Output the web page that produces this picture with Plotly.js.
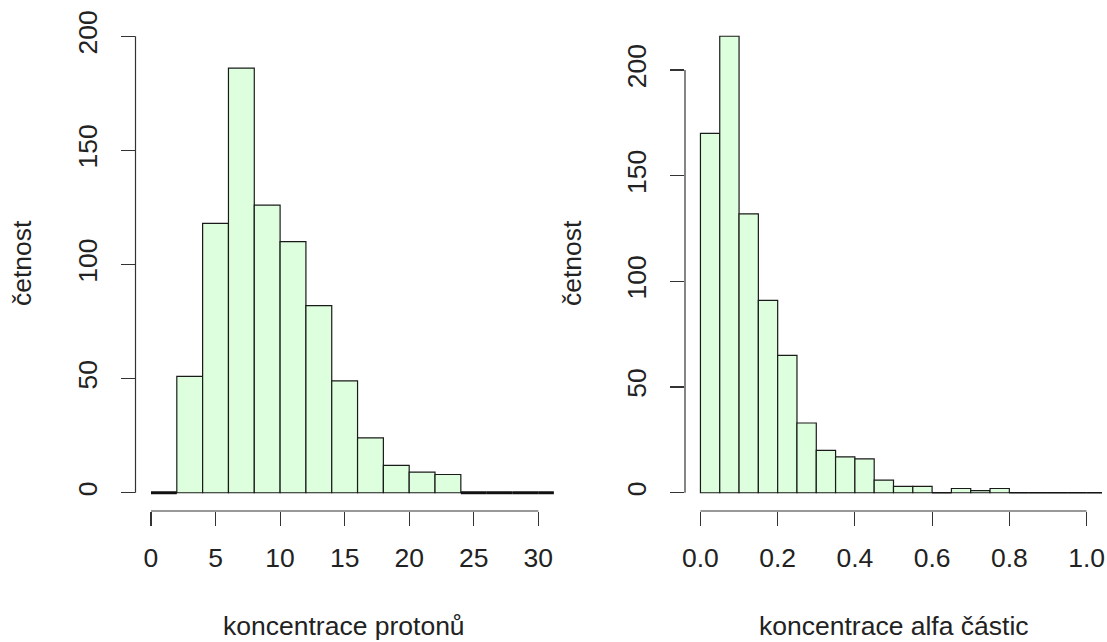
<!DOCTYPE html>
<html><head><meta charset="utf-8">
<script src="https://cdn.plot.ly/plotly-3.0.1.min.js"></script>
<style>html,body{margin:0;padding:0;background:#fff}#chart{width:1107px;height:642px}</style>
</head><body><div id="chart"></div>
<script>
// ---- data ----
const protonBreaks = [0, 2, 4, 6, 8, 10, 12, 14, 16, 18, 20, 22, 24, 26, 28, 30, 32];
const protonCounts = [0, 51, 118, 186, 126, 110, 82, 49, 24, 12, 9, 8, 0, 0, 0, 0];
const protonTicks = [0, 5, 10, 15, 20, 25, 30];

const alphaBreaks = [0, 0.05, 0.1, 0.15, 0.2, 0.25, 0.3, 0.35, 0.4, 0.45, 0.5, 0.55, 0.6, 0.65, 0.7, 0.75, 0.8, 0.85, 0.9, 0.95, 1.0, 1.05];
const alphaCounts = [170, 216, 132, 91, 65, 33, 20, 17, 16, 6, 3, 3, 0, 2, 1, 2, 0, 0, 0, 0, 0];
const alphaTicks = [0, 0.2, 0.4, 0.6, 0.8, 1.0];
const alphaTickText = ['0.0', '0.2', '0.4', '0.6', '0.8', '1.0'];

const countTicks = [0, 50, 100, 150, 200];
const yTitle = 'četnost';
const protonTitle = 'koncentrace protonů';
const alphaTitle = 'koncentrace alfa částic';

// ---- helpers ----
const W = 1107, H = 642;
const FONT = 'Liberation Sans, Arial, sans-serif';
const FILL = '#ddffdd', EDGE = '#1a1a1a', AXC = '#333';

function barTrace(breaks, counts, xa, ya) {
  const mids = [], widths = [];
  for (let i = 0; i < counts.length; i++) {
    mids.push((breaks[i] + breaks[i + 1]) / 2);
    widths.push(breaks[i + 1] - breaks[i]);
  }
  return {
    type: 'bar', x: mids, y: counts, width: widths, xaxis: xa, yaxis: ya,
    marker: {color: FILL, line: {color: EDGE, width: 1.2}},
    hoverinfo: 'x+y', showlegend: false
  };
}
function zeroTrace(breaks, counts, xa, ya, lw) {
  const xs = [], ys = [];
  for (let i = 0; i < counts.length; i++) {
    if (counts[i] === 0) { xs.push(breaks[i], breaks[i + 1], null); ys.push(0, 0, null); }
  }
  return {type: 'scatter', mode: 'lines', x: xs, y: ys, xaxis: xa, yaxis: ya,
    line: {color: '#111', width: lw}, hoverinfo: 'skip', showlegend: false};
}

const yDom = [1 - 511 / H, 1 - 18 / H];
const ax = {
  x:  {domain: [135.5 / W, 553.8 / W], range: [-1.2, 31.2]},
  x2: {domain: [685 / W, 1102 / W], range: [-0.04, 1.04]},
  y:  {domain: yDom, range: [-8, 208]},
  y2: {domain: yDom, range: [-8.64, 224.64]}
};
function px(a, v) { return a.domain[0] + (v - a.range[0]) / (a.range[1] - a.range[0]) * (a.domain[1] - a.domain[0]); }

const FS = 26.5;
const tickFont = {family: FONT, size: FS, color: '#222'};
function xAxis(a, anchor, ticks, text) {
  return Object.assign({
    anchor: anchor, showgrid: false, zeroline: false, showline: false,
    ticks: 'outside', ticklen: 14, tickwidth: 1.2, tickcolor: AXC,
    tickmode: 'array', tickvals: ticks, ticktext: text || ticks.map(String),
    tickfont: tickFont, ticklabelstandoff: 9, fixedrange: true
  }, a);
}
function yAxis(a, anchor) {
  return Object.assign({
    anchor: anchor, showgrid: false, zeroline: false, showline: false,
    ticks: 'outside', ticklen: 14, tickwidth: 1.2, tickcolor: AXC,
    tickmode: 'array', tickvals: countTicks, ticktext: countTicks.map(String),
    tickangle: -90, tickfont: tickFont, ticklabelstandoff: 13, fixedrange: true
  }, a);
}

function axisLines(xa, ya, xticks) {
  const yb = ya.domain[0], xl = xa.domain[0];
  const line = {color: AXC, width: 1.2};
  return [
    {type: 'line', xref: 'paper', yref: 'paper', x0: px(xa, xticks[0]), x1: px(xa, xticks[xticks.length - 1]), y0: yb, y1: yb, line: line},
    {type: 'line', xref: 'paper', yref: 'paper', x0: xl, x1: xl, y0: px(ya, countTicks[0]), y1: px(ya, countTicks[countTicks.length - 1]), line: line}
  ];
}

const titleFont = {family: FONT, size: FS, color: '#222'};
const annotations = [
  {text: protonTitle, xref: 'paper', yref: 'paper', x: 344 / W, y: 1 - 626 / H, xanchor: 'center', yanchor: 'middle', showarrow: false, font: titleFont},
  {text: alphaTitle, xref: 'paper', yref: 'paper', x: 894 / W, y: 1 - 626 / H, xanchor: 'center', yanchor: 'middle', showarrow: false, font: titleFont},
  {text: yTitle, xref: 'paper', yref: 'paper', x: 22 / W, y: 1 - 263 / H, xanchor: 'center', yanchor: 'middle', textangle: -90, showarrow: false, font: titleFont},
  {text: yTitle, xref: 'paper', yref: 'paper', x: 572 / W, y: 1 - 263 / H, xanchor: 'center', yanchor: 'middle', textangle: -90, showarrow: false, font: titleFont}
];

const data = [
  barTrace(protonBreaks, protonCounts, 'x', 'y'),
  zeroTrace(protonBreaks, protonCounts, 'x', 'y', 3),
  barTrace(alphaBreaks, alphaCounts, 'x2', 'y2'),
  zeroTrace(alphaBreaks, alphaCounts, 'x2', 'y2', 1.3)
];

const layout = {
  width: W, height: H, margin: {l: 0, r: 0, t: 0, b: 0},
  paper_bgcolor: '#fff', plot_bgcolor: 'rgba(0,0,0,0)',
  font: {family: FONT, color: '#222'},
  bargap: 0, showlegend: false,
  xaxis: xAxis(ax.x, 'y', protonTicks),
  yaxis: yAxis(ax.y, 'x'),
  xaxis2: xAxis(ax.x2, 'y2', alphaTicks, alphaTickText),
  yaxis2: yAxis(ax.y2, 'x2'),
  shapes: axisLines(ax.x, ax.y, protonTicks).concat(axisLines(ax.x2, ax.y2, alphaTicks)),
  annotations: annotations
};

Plotly.newPlot('chart', data, layout, {displayModeBar: false, staticPlot: true});
</script>
</body></html>
